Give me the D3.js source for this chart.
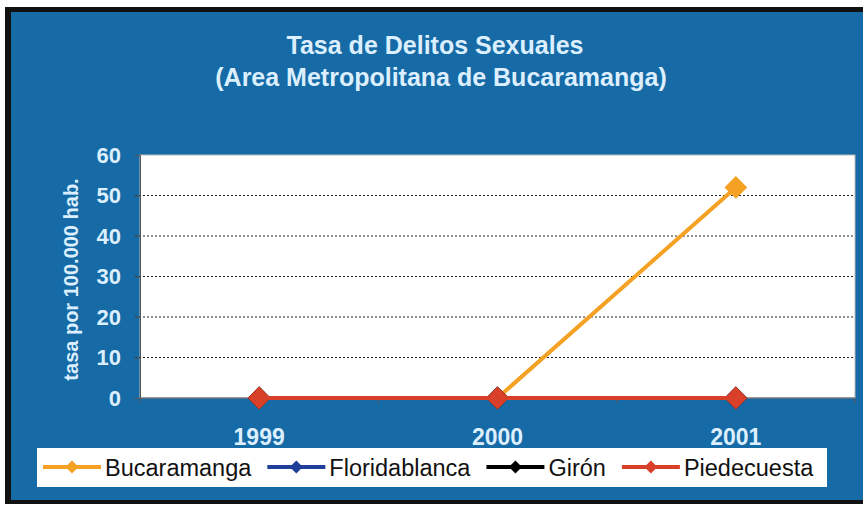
<!DOCTYPE html>
<html lang="es">
<head>
  <meta charset="UTF-8">
  <title>Tasa de Delitos Sexuales</title>
  <script src="https://d3js.org/d3.v7.min.js"></script>
  <style>
    body { margin: 0; background: #fff; }
    svg text { font-family: "Liberation Sans", Arial, sans-serif; }
    .light { fill: #dcefff; font-weight: bold; }
  </style>
</head>
<body>
  <svg width="863" height="507"></svg>
  <script>
    // data
    const years = ["1999", "2000", "2001"];
    const bucaramanga = [0, 0, 52];
    const floridablanca = [0, 0, 0];
    const giron = [0, 0, 0];
    const piedecuesta = [0, 0, 0];
    const yTicks = [0, 10, 20, 30, 40, 50, 60];

    const series = [
      { name: "Bucaramanga", values: bucaramanga, color: "#f4a124" },
      { name: "Floridablanca", values: floridablanca, color: "#1f3f99" },
      { name: "Girón", values: giron, color: "#000000" },
      { name: "Piedecuesta", values: piedecuesta, color: "#d8402a" }
    ];

    const svg = d3.select("svg");

    // frame + blue panel
    svg.append("rect").attr("x", 5).attr("y", 7).attr("width", 870).attr("height", 497).attr("fill", "#111");
    svg.append("rect").attr("x", 11).attr("y", 12).attr("width", 860).attr("height", 488).attr("fill", "#166aa5");

    // title
    svg.append("text").attr("class", "light").attr("x", 435).attr("y", 54)
      .attr("text-anchor", "middle").style("font-size", "25px").text("Tasa de Delitos Sexuales");
    svg.append("text").attr("class", "light").attr("x", 441).attr("y", 86)
      .attr("text-anchor", "middle").style("font-size", "25px").text("(Area Metropolitana de Bucaramanga)");

    const plot = { left: 140, right: 855, top: 155, bottom: 398 };

    const x = d3.scalePoint().domain(years).range([plot.left, plot.right]).padding(0.5);
    const y = d3.scaleLinear().domain([0, 60]).range([plot.bottom, plot.top]);

    // plot area
    svg.append("rect")
      .attr("x", plot.left).attr("y", plot.top)
      .attr("width", plot.right - plot.left).attr("height", plot.bottom - plot.top)
      .attr("fill", "#fff").attr("stroke", "#b8b8b8");

    // gridlines (with tick marks out to the left)
    svg.append("g").selectAll("line")
      .data(yTicks.filter(d => d > 0 && d < 60))
      .join("line")
      .attr("x1", plot.left - 5).attr("x2", plot.right)
      .attr("y1", d => y(d)).attr("y2", d => y(d))
      .attr("stroke", "#222").attr("stroke-dasharray", "2,2");

    // y axis
    const yAxis = svg.append("g")
      .attr("transform", `translate(${plot.left},0)`)
      .call(d3.axisLeft(y).tickValues(yTicks).tickSize(5).tickPadding(14));
    yAxis.select(".domain").attr("stroke", "#555");
    yAxis.selectAll(".tick line").attr("stroke", "#555");
    yAxis.selectAll("text").attr("class", "light").attr("fill", null).style("font-size", "22px");

    // x axis: ticks sit between the categories
    const step = x.step();
    svg.append("line")
      .attr("x1", plot.left).attr("x2", plot.right)
      .attr("y1", plot.bottom).attr("y2", plot.bottom)
      .attr("stroke", "#555");
    svg.append("g").selectAll("line")
      .data(d3.range(years.length + 1))
      .join("line")
      .attr("x1", i => plot.left + i * step).attr("x2", i => plot.left + i * step)
      .attr("y1", plot.bottom).attr("y2", plot.bottom + 5)
      .attr("stroke", "#555");
    svg.append("g").selectAll("text")
      .data(years)
      .join("text")
      .attr("class", "light")
      .attr("x", d => x(d)).attr("y", 445)
      .attr("text-anchor", "middle").style("font-size", "23px")
      .text(d => d);

    // y axis title
    svg.append("text").attr("class", "light")
      .attr("transform", `translate(78,${(plot.top + plot.bottom) / 2 + 3}) rotate(-90)`)
      .attr("text-anchor", "middle").style("font-size", "20px")
      .text("tasa por 100.000 hab.");

    // lines and markers
    const line = d3.line().x((d, i) => x(years[i])).y(d => y(d));
    const diamond = d3.symbol().type(d3.symbolSquare).size(260);

    series.forEach(s => {
      const g = svg.append("g");
      g.append("path").datum(s.values)
        .attr("d", line).attr("fill", "none")
        .attr("stroke", s.color).attr("stroke-width", 4);
      g.selectAll("path.m").data(s.values).join("path")
        .attr("class", "m")
        .attr("d", diamond)
        .attr("transform", (d, i) => `translate(${x(years[i])},${y(d)}) rotate(45)`)
        .attr("fill", s.color);
    });

    // legend
    svg.append("rect").attr("x", 37).attr("y", 448).attr("width", 790).attr("height", 39).attr("fill", "#fff");
    const legendDiamond = d3.symbol().type(d3.symbolSquare).size(85);
    let lx = 43;
    series.forEach(s => {
      const g = svg.append("g").attr("transform", `translate(${lx},467)`);
      g.append("line").attr("x1", 0).attr("x2", 58).attr("stroke", s.color).attr("stroke-width", 4);
      g.append("path").attr("d", legendDiamond).attr("transform", "translate(29,0) rotate(45)").attr("fill", s.color);
      const t = g.append("text").attr("x", 62).attr("y", 8.5)
        .style("font-size", "23.5px").attr("fill", "#111").text(s.name);
      lx += 62 + t.node().getComputedTextLength() + 16;
    });
  </script>
</body>
</html>
